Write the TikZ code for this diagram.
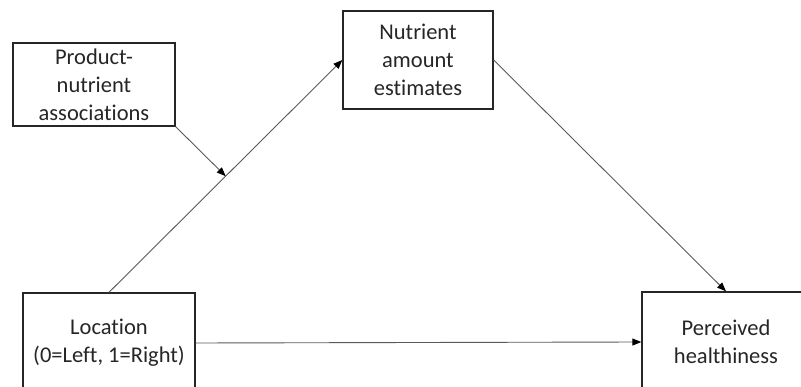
\documentclass[tikz,border=0pt]{standalone}
\usepackage{fontspec}
\setmainfont[Ligatures=NoCommon]{Carlito}
\usetikzlibrary{arrows.meta,calc}
\begin{document}
\begin{tikzpicture}[x=1pt,y=-1pt,
  box/.style={draw=black!85,line width=1.3pt,rectangle,inner sep=0pt,align=center,
    text=black!85,font=\fontsize{22.5}{28}\selectfont},
  link/.style={draw=black!65,line width=0.9pt,-{Triangle[length=9pt,width=7pt,fill=black,color=black]}}]
\useasboundingbox (0,0) rectangle (801,387);
\begin{scope}
\clip (0,0) rectangle (801,387);
\node[box,minimum width=162pt,minimum height=83pt] (prod) at (94,84.5) {Product-\\nutrient\\associations};
\node[box,minimum width=150pt,minimum height=98pt] (nut) at (418,60) {Nutrient\\amount\\estimates};
\node[box,minimum width=172pt,minimum height=100pt] (loc) at (109,343) {Location\\(0=Left, 1=Right)};
\node[box,minimum width=168pt,minimum height=100pt] (perc) at (726,342) {Perceived\\healthiness};
\coordinate (mid) at ($(loc.north)!0.5!(nut.west)$);
\draw[link] (loc.north) -- (nut.west);
\draw[link] (nut.east) -- (perc.north);
\draw[link] (loc.east) -- (perc.west);
\draw[link] (prod.south east) -- (mid);
\end{scope}
\end{tikzpicture}
\end{document}
